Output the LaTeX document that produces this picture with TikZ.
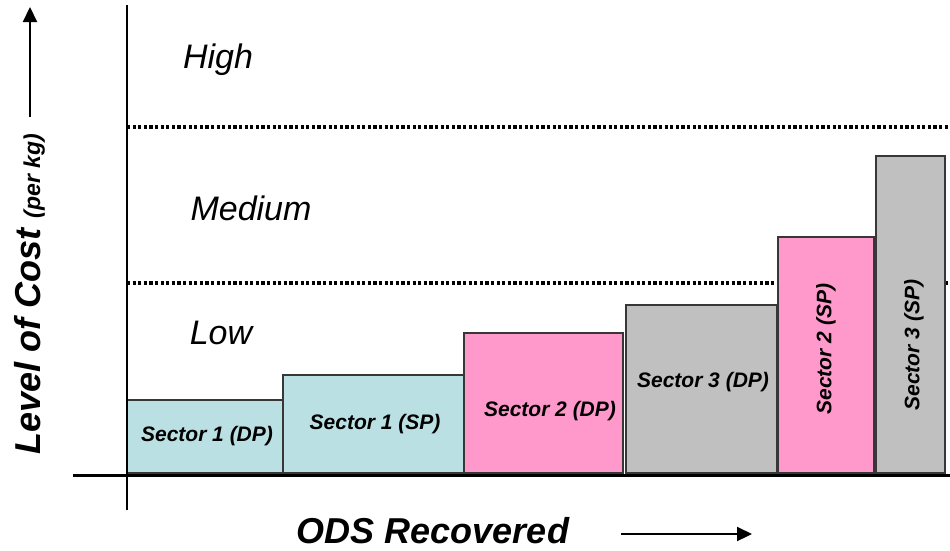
\documentclass[tikz,border=0pt]{standalone}
\usepackage{fontspec}
\setmainfont{Liberation Sans}
\usetikzlibrary{arrows.meta}

\definecolor{sectorcyan}{RGB}{187,224,227}
\definecolor{sectorpink}{RGB}{255,153,204}
\definecolor{sectorgray}{RGB}{192,192,192}

\tikzset{
  bar/.style={draw={rgb,255:red,55;green,55;blue,55},line width=1.1pt},
  barlabel/.style={font=\fontsize{21}{23}\selectfont\bfseries\itshape,inner sep=0pt},
  levellabel/.style={font=\fontsize{34}{36}\selectfont\itshape,inner sep=0pt},
  axislabel/.style={font=\fontsize{36}{38}\selectfont\bfseries\itshape,inner sep=0pt},
  levelline/.style={line width=3.2pt,dash pattern=on 3.2pt off 2.4pt},
  axisarrow/.style={line width=2.2pt,-{Triangle[length=15pt,width=14pt]}}
}

\begin{document}
\begin{tikzpicture}[x=1pt,y=-1pt]
\useasboundingbox (0,0) rectangle (950,550);

% cost bands
\draw[levelline] (127,127) -- (950,127);
\draw[levelline] (127,283) -- (950,283);

\node[levellabel] (high) at (218,60) {High};
\node[levellabel] (medium) at (251,208) {Medium};
\node[levellabel] (low) at (221,333) {Low};

% sectors
\draw[bar,fill=sectorcyan] (127,473) rectangle (283,400);
\draw[bar,fill=sectorcyan] (283,473) rectangle (464,375);
\draw[bar,fill=sectorpink] (464,473) rectangle (623,333);
\draw[bar,fill=sectorgray] (626,473) rectangle (777,305);
\draw[bar,fill=sectorpink] (778,473) rectangle (874,237);
\draw[bar,fill=sectorgray] (876,473) rectangle (945,156);

\node[barlabel] (s1dp) at (207,436) {Sector 1 (DP)};
\node[barlabel] (s1sp) at (375,424) {Sector 1 (SP)};
\node[barlabel] (s2dp) at (550,411) {Sector 2 (DP)};
\node[barlabel] (s3dp) at (703,382) {Sector 3 (DP)};
\node[barlabel,rotate=90] (s2sp) at (826,349) {Sector 2 (SP)};
\node[barlabel,rotate=90] (s3sp) at (914,345) {Sector 3 (SP)};

% axes
\draw[line width=2.8pt] (127,5) -- (127,510);
\draw[line width=3pt] (73,475) -- (950,475);

\node[axislabel,rotate=90,anchor=base] (ylab) at (40,294)
  {Level of Cost {\fontsize{23}{24}\selectfont(per kg)}};
\node[axislabel,anchor=base] (xlab) at (433,543) {ODS Recovered};

\coordinate (ytail) at (30,117);
\coordinate (yhead) at (30,7);
\draw[axisarrow] (ytail) -- (yhead);
\coordinate (xtail) at (621,534);
\coordinate (xhead) at (752,534);
\draw[axisarrow] (xtail) -- (xhead);
\end{tikzpicture}
\end{document}
